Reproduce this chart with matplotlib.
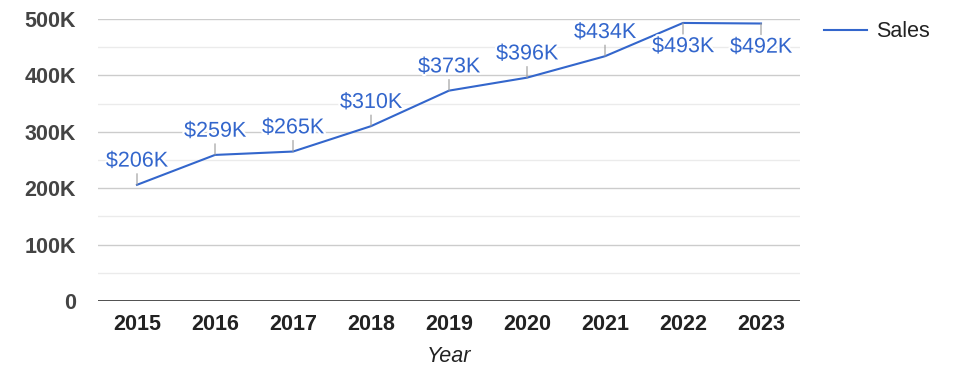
import matplotlib.pyplot as plt
import matplotlib.patheffects as pe
from matplotlib.ticker import FixedLocator

years = ["2015", "2016", "2017", "2018", "2019", "2020", "2021", "2022", "2023"]
sales = [206000, 259000, 265000, 310000, 373000, 396000, 434000, 493000, 492000]
labels = ["$206K", "$259K", "$265K", "$310K", "$373K", "$396K", "$434K", "$493K", "$492K"]
# labels drawn below the point (too close to the top)
below = [False, False, False, False, False, False, False, True, True]

plt.rcParams['font.family'] = ['Liberation Sans', 'DejaVu Sans']

blue = "#3366cc"
fs = 15.5
fig = plt.figure(figsize=(9.75, 3.78), dpi=100)
ax = fig.add_axes([98 / 975, 1 - 301 / 378, 702 / 975, 282 / 378])

x = list(range(len(years)))
ax.plot(x, sales, color=blue, lw=1.5, label="Sales", zorder=3)

for i, v in enumerate(sales):
    d = -1 if below[i] else 1
    ax.annotate("", xy=(i, v), xytext=(0, 8 * d), textcoords="offset points",
                arrowprops=dict(arrowstyle="-", color="#999999", lw=0.8,
                                shrinkA=0, shrinkB=0), zorder=4)
    ax.annotate(labels[i], xy=(i, v), xytext=(0, 9.5 * d), textcoords="offset points",
                ha="center", va="top" if below[i] else "bottom",
                fontsize=fs, color=blue, zorder=5,
                path_effects=[pe.withStroke(linewidth=3, foreground="white")])

ax.set_xlim(-0.5, len(years) - 0.5)
ax.set_ylim(0, 500000)
ax.set_xticks(x)
ax.set_xticklabels(years, fontsize=fs, fontweight="bold", color="#222222")
ax.set_yticks([0, 100000, 200000, 300000, 400000, 500000])
ax.set_yticklabels(["0", "100K", "200K", "300K", "400K", "500K"],
                   fontsize=fs, fontweight="bold", color="#444444")
ax.yaxis.set_minor_locator(FixedLocator([50000, 150000, 250000, 350000, 450000]))
ax.tick_params(axis="both", which="both", length=0)
ax.tick_params(axis="y", pad=16)
ax.tick_params(axis="x", pad=9)
ax.grid(axis="y", which="major", color="#cccccc", lw=1)
ax.grid(axis="y", which="minor", color="#ebebeb", lw=1)
ax.set_axisbelow(True)
for s in ax.spines.values():
    s.set_visible(False)
ax.axhline(0, color="#333333", lw=1.2, zorder=2)

ax.set_xlabel("Year", fontsize=fs, style="italic", color="#222222", labelpad=8)

ax.legend(loc="upper left", bbox_to_anchor=(1.006, 1.06), frameon=False,
          fontsize=fs, handlelength=2.0, handletextpad=0.45, labelcolor="#222222")

fig.savefig("out.png", dpi=100)
